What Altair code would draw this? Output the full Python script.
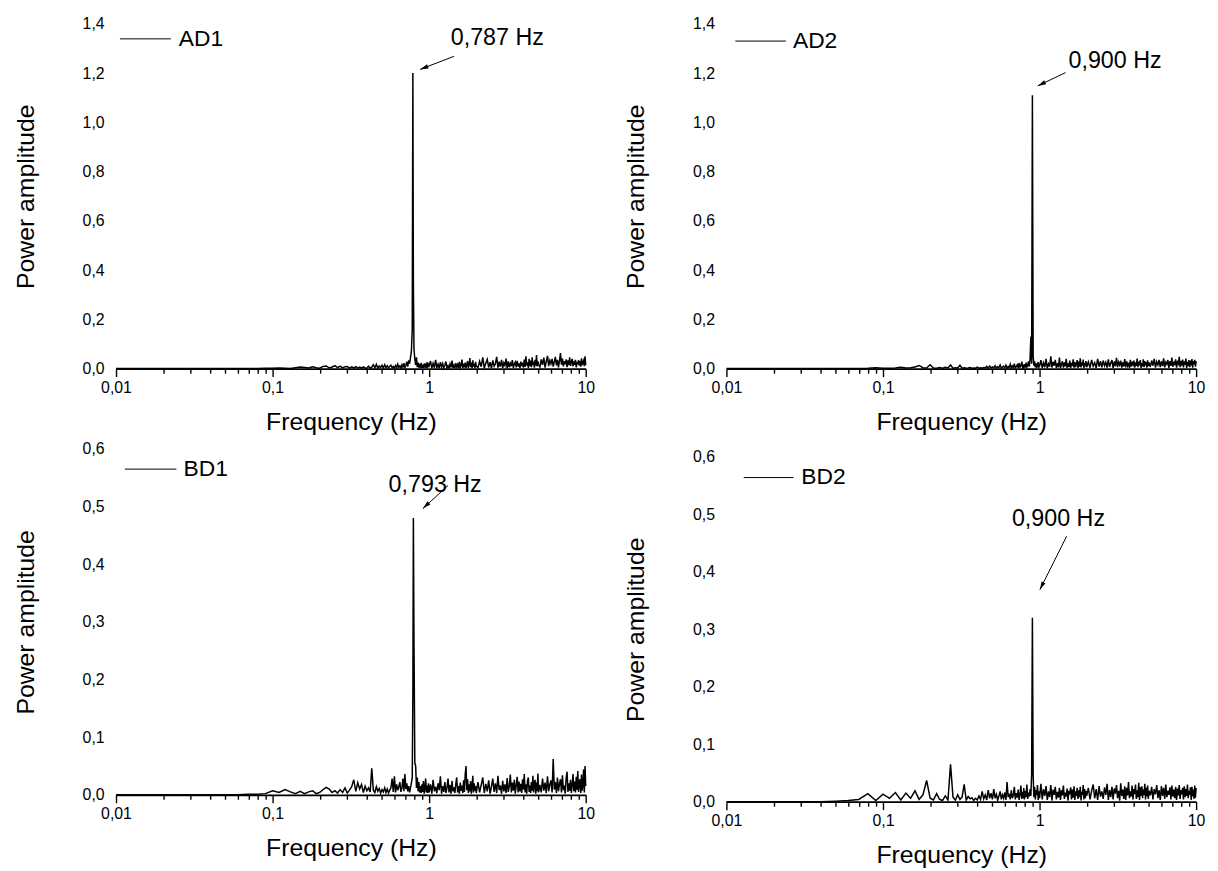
import math
import altair as alt
import pandas as pd

FONT = "Liberation Sans"

# ---------------- data ----------------
FREQ = [
    0.01, 0.015, 0.02, 0.025, 0.03, 0.04, 0.05, 0.06, 0.07, 0.08, 0.09,
    0.10, 0.11, 0.12, 0.13, 0.14, 0.15, 0.16, 0.17, 0.18, 0.19,
    0.20, 0.21, 0.22, 0.23, 0.24, 0.25, 0.26, 0.27, 0.28, 0.29,
    0.30, 0.31, 0.32, 0.33, 0.34, 0.35, 0.36, 0.37, 0.38, 0.39,
    0.40, 0.41, 0.42, 0.43, 0.44, 0.45, 0.46, 0.47, 0.48, 0.49, 0.50,
    0.51, 0.52, 0.53, 0.54, 0.55, 0.56, 0.57, 0.58, 0.59, 0.60,
    0.61, 0.62, 0.63, 0.64, 0.65, 0.66, 0.67, 0.68, 0.69, 0.70,
    0.71, 0.72, 0.73, 0.74, 0.75, 0.76, 0.77, 0.78, 0.787, 0.793,
    0.80, 0.81, 0.82, 0.83, 0.84, 0.85, 0.86, 0.87, 0.88, 0.89,
    0.90, 0.91, 0.92, 0.93, 0.94, 0.95, 0.96, 0.97, 0.98, 0.99,
    1.00, 1.02, 1.04, 1.06, 1.08, 1.10, 1.12, 1.14, 1.16, 1.18,
    1.20, 1.22, 1.24, 1.26, 1.28, 1.30, 1.32, 1.34, 1.36, 1.38,
    1.40, 1.42, 1.44, 1.46, 1.48, 1.50, 1.52, 1.54, 1.56, 1.58,
    1.60, 1.62, 1.64, 1.66, 1.68, 1.70, 1.72, 1.74, 1.76, 1.78,
    1.80, 1.82, 1.84, 1.86, 1.88, 1.90, 1.92, 1.94, 1.96, 1.98, 2.00,
    2.05, 2.10, 2.15, 2.20, 2.25, 2.30, 2.35, 2.40, 2.45, 2.50,
    2.55, 2.60, 2.65, 2.70, 2.75, 2.80, 2.85, 2.90, 2.95, 3.00,
    3.05, 3.10, 3.15, 3.20, 3.25, 3.30, 3.35, 3.40, 3.45, 3.50,
    3.55, 3.60, 3.65, 3.70, 3.75, 3.80, 3.85, 3.90, 3.95, 4.00,
    4.05, 4.10, 4.15, 4.20, 4.25, 4.30, 4.35, 4.40, 4.45, 4.50,
    4.55, 4.60, 4.65, 4.70, 4.75, 4.80, 4.85, 4.90, 4.95, 5.00,
    5.1, 5.2, 5.3, 5.4, 5.5, 5.6, 5.7, 5.8, 5.9, 6.0,
    6.1, 6.2, 6.3, 6.4, 6.5, 6.6, 6.7, 6.8, 6.9, 7.0,
    7.1, 7.2, 7.3, 7.4, 7.5, 7.6, 7.7, 7.8, 7.9, 8.0,
    8.1, 8.2, 8.3, 8.4, 8.5, 8.6, 8.7, 8.8, 8.9, 9.0,
    9.1, 9.2, 9.3, 9.4, 9.5, 9.6, 9.7, 9.8, 9.9, 10.0,
]

AD1 = [
    0.001, 0.001, 0.001, 0.001, 0.001, 0.001, 0.001, 0.001, 0.001, 0.001, 0.002,
    0.002, 0.003, 0.002, 0.001, 0.004, 0.007, 0.005, 0.003, 0.008, 0.004,
    0.002, 0.009, 0.011, 0.003, 0.007, 0.012, 0.004, 0.010, 0.003, 0.008,
    0.009, 0.002, 0.007, 0.003, 0.008, 0.002, 0.006, 0.002, 0.007, 0.003,
    0.002, 0.010, 0.002, 0.006, 0.016, 0.003, 0.018, 0.002, 0.011, 0.004, 0.014,
    0.003, 0.016, 0.004, 0.012, 0.002, 0.010, 0.014, 0.003, 0.009, 0.002,
    0.013, 0.004, 0.018, 0.005, 0.011, 0.002, 0.016, 0.006, 0.022, 0.004,
    0.013, 0.028, 0.008, 0.034, 0.020, 0.045, 0.070, 0.160, 1.200, 0.350,
    0.080, 0.040, 0.015, 0.046, 0.006, 0.025, 0.004, 0.019, 0.003, 0.024,
    0.002, 0.016, 0.003, 0.021, 0.005, 0.014, 0.002, 0.027, 0.004, 0.017,
    0.012, 0.031, 0.002, 0.022, 0.004, 0.036, 0.003, 0.018, 0.002, 0.026,
    0.006, 0.021, 0.002, 0.015, 0.029, 0.003, 0.012, 0.002, 0.019, 0.005,
    0.033, 0.003, 0.014, 0.002, 0.022, 0.007, 0.017, 0.002, 0.028, 0.004,
    0.013, 0.037, 0.003, 0.020, 0.005, 0.025, 0.002, 0.016, 0.031, 0.003,
    0.019, 0.043, 0.006, 0.025, 0.002, 0.034, 0.008, 0.020, 0.002, 0.028, 0.011,
    0.004, 0.030, 0.008, 0.046, 0.002, 0.022, 0.038, 0.005, 0.026, 0.002,
    0.034, 0.010, 0.020, 0.048, 0.004, 0.028, 0.008, 0.036, 0.003, 0.024,
    0.013, 0.041, 0.002, 0.030, 0.006, 0.022, 0.010, 0.035, 0.003, 0.019,
    0.027, 0.005, 0.032, 0.009, 0.021, 0.002, 0.029, 0.011, 0.024, 0.004,
    0.037, 0.007, 0.050, 0.013, 0.026, 0.003, 0.040, 0.010, 0.033, 0.006,
    0.046, 0.015, 0.028, 0.004, 0.036, 0.012, 0.055, 0.009, 0.030, 0.017,
    0.007, 0.038, 0.015, 0.045, 0.004, 0.030, 0.052, 0.010, 0.034, 0.020,
    0.040, 0.008, 0.028, 0.048, 0.013, 0.036, 0.005, 0.032, 0.063, 0.016,
    0.041, 0.009, 0.030, 0.018, 0.038, 0.006, 0.034, 0.014, 0.046, 0.011,
    0.027, 0.040, 0.009, 0.030, 0.016, 0.036, 0.005, 0.028, 0.018, 0.035,
    0.012, 0.031, 0.008, 0.042, 0.015, 0.026, 0.033, 0.010, 0.050, 0.014,
]

AD2 = [
    0.001, 0.001, 0.001, 0.001, 0.001, 0.001, 0.001, 0.001, 0.001, 0.002, 0.004,
    0.002, 0.002, 0.003, 0.006, 0.003, 0.004, 0.007, 0.013, 0.004, 0.003,
    0.016, 0.003, 0.002, 0.005, 0.002, 0.006, 0.003, 0.015, 0.002, 0.004,
    0.003, 0.014, 0.002, 0.004, 0.002, 0.003, 0.005, 0.002, 0.003, 0.002,
    0.006, 0.002, 0.004, 0.002, 0.005, 0.003, 0.009, 0.002, 0.011, 0.003, 0.007,
    0.003, 0.012, 0.002, 0.008, 0.004, 0.015, 0.002, 0.006, 0.010, 0.003,
    0.014, 0.002, 0.009, 0.004, 0.018, 0.003, 0.011, 0.005, 0.020, 0.002,
    0.008, 0.016, 0.003, 0.022, 0.006, 0.012, 0.028, 0.004, 0.010, 0.005,
    0.018, 0.004, 0.025, 0.006, 0.014, 0.030, 0.008, 0.040, 0.130, 0.020,
    1.110, 0.050, 0.012, 0.030, 0.005, 0.022, 0.003, 0.016, 0.027, 0.006,
    0.010, 0.035, 0.003, 0.024, 0.006, 0.040, 0.002, 0.020, 0.008, 0.050,
    0.004, 0.028, 0.012, 0.036, 0.003, 0.022, 0.006, 0.045, 0.002, 0.018,
    0.030, 0.004, 0.026, 0.009, 0.040, 0.003, 0.021, 0.007, 0.033, 0.002,
    0.024, 0.011, 0.038, 0.004, 0.027, 0.006, 0.020, 0.035, 0.003, 0.029,
    0.008, 0.042, 0.005, 0.025, 0.013, 0.037, 0.002, 0.023, 0.009, 0.031, 0.006,
    0.028, 0.004, 0.036, 0.010, 0.024, 0.003, 0.040, 0.008, 0.030, 0.005,
    0.033, 0.012, 0.026, 0.004, 0.038, 0.007, 0.022, 0.035, 0.003, 0.029,
    0.010, 0.044, 0.006, 0.027, 0.015, 0.032, 0.004, 0.025, 0.009, 0.039,
    0.005, 0.030, 0.012, 0.024, 0.003, 0.036, 0.008, 0.028, 0.017, 0.033,
    0.004, 0.026, 0.011, 0.041, 0.006, 0.029, 0.014, 0.035, 0.003, 0.023,
    0.009, 0.038, 0.006, 0.031, 0.013, 0.027, 0.004, 0.034, 0.010, 0.025,
    0.007, 0.033, 0.012, 0.040, 0.004, 0.028, 0.015, 0.036, 0.006, 0.030,
    0.010, 0.042, 0.005, 0.026, 0.018, 0.035, 0.003, 0.031, 0.011, 0.045,
    0.007, 0.029, 0.014, 0.038, 0.004, 0.027, 0.020, 0.048, 0.006, 0.032,
    0.012, 0.037, 0.005, 0.030, 0.016, 0.041, 0.003, 0.028, 0.010, 0.035,
    0.006, 0.033, 0.013, 0.039, 0.004, 0.031, 0.018, 0.036, 0.008, 0.030,
]

BD1 = [
    0.0, 0.0, 0.0, 0.0, 0.0, 0.0, 0.0, 0.0, 0.001, 0.001, 0.002,
    0.007, 0.004, 0.009, 0.005, 0.002, 0.006, 0.002, 0.005, 0.007, 0.002,
    0.004, 0.009, 0.013, 0.010, 0.004, 0.007, 0.003, 0.009, 0.004, 0.012,
    0.003, 0.008, 0.014, 0.026, 0.006, 0.021, 0.010, 0.018, 0.004, 0.015,
    0.007, 0.012, 0.005, 0.046, 0.008, 0.004, 0.014, 0.006, 0.011, 0.003, 0.009,
    0.005, 0.012, 0.004, 0.010, 0.003, 0.008, 0.012, 0.028, 0.005, 0.032,
    0.004, 0.018, 0.008, 0.014, 0.022, 0.005, 0.012, 0.028, 0.006, 0.036,
    0.010, 0.020, 0.006, 0.015, 0.004, 0.012, 0.020, 0.030, 0.175, 0.480,
    0.270, 0.055, 0.050, 0.012, 0.030, 0.006, 0.022, 0.004, 0.015, 0.003,
    0.018, 0.005, 0.024, 0.002, 0.012, 0.028, 0.004, 0.016, 0.003, 0.020,
    0.004, 0.018, 0.002, 0.026, 0.006, 0.014, 0.003, 0.020, 0.008, 0.032,
    0.002, 0.015, 0.005, 0.022, 0.003, 0.012, 0.028, 0.004, 0.017, 0.002,
    0.024, 0.006, 0.013, 0.003, 0.019, 0.030, 0.004, 0.015, 0.002, 0.021,
    0.007, 0.016, 0.003, 0.025, 0.005, 0.036, 0.050, 0.008, 0.027, 0.003,
    0.018, 0.006, 0.024, 0.002, 0.014, 0.033, 0.004, 0.020, 0.007, 0.015, 0.003,
    0.022, 0.004, 0.017, 0.030, 0.003, 0.019, 0.006, 0.025, 0.002, 0.014,
    0.028, 0.005, 0.020, 0.003, 0.033, 0.008, 0.016, 0.002, 0.024, 0.006,
    0.018, 0.003, 0.029, 0.005, 0.015, 0.035, 0.004, 0.021, 0.007, 0.026,
    0.002, 0.017, 0.031, 0.004, 0.023, 0.006, 0.019, 0.003, 0.027, 0.009,
    0.036, 0.004, 0.018, 0.002, 0.024, 0.030, 0.005, 0.016, 0.003, 0.022,
    0.007, 0.033, 0.004, 0.019, 0.026, 0.002, 0.021, 0.006, 0.037, 0.004,
    0.017, 0.004, 0.028, 0.007, 0.021, 0.003, 0.032, 0.006, 0.018, 0.025,
    0.004, 0.062, 0.009, 0.022, 0.003, 0.030, 0.006, 0.019, 0.027, 0.004,
    0.034, 0.008, 0.016, 0.002, 0.029, 0.040, 0.005, 0.020, 0.007, 0.026,
    0.003, 0.018, 0.036, 0.006, 0.023, 0.004, 0.031, 0.009, 0.041, 0.005,
    0.020, 0.027, 0.003, 0.035, 0.007, 0.019, 0.044, 0.004, 0.050, 0.015,
]

BD2 = [
    0.0, 0.0, 0.0, 0.0, 0.0, 0.0, 0.001, 0.002, 0.004, 0.014, 0.002,
    0.013, 0.006, 0.016, 0.003, 0.015, 0.006, 0.019, 0.004, 0.012, 0.037,
    0.006, 0.003, 0.014, 0.004, 0.002, 0.010, 0.003, 0.065, 0.008, 0.003,
    0.012, 0.004, 0.008, 0.030, 0.003, 0.009, 0.005, 0.007, 0.002, 0.006,
    0.003, 0.010, 0.004, 0.018, 0.005, 0.012, 0.003, 0.020, 0.006, 0.015, 0.004,
    0.022, 0.006, 0.013, 0.003, 0.010, 0.018, 0.004, 0.012, 0.006, 0.016,
    0.003, 0.034, 0.008, 0.014, 0.004, 0.020, 0.006, 0.011, 0.026, 0.004,
    0.015, 0.007, 0.021, 0.003, 0.012, 0.028, 0.005, 0.017, 0.006, 0.024,
    0.004, 0.019, 0.008, 0.030, 0.005, 0.016, 0.009, 0.022, 0.010, 0.048,
    0.320, 0.046, 0.008, 0.026, 0.004, 0.020, 0.012, 0.029, 0.003, 0.018,
    0.006, 0.031, 0.004, 0.022, 0.010, 0.027, 0.003, 0.018, 0.008, 0.029,
    0.002, 0.021, 0.012, 0.026, 0.004, 0.017, 0.007, 0.024, 0.003, 0.020,
    0.011, 0.028, 0.005, 0.016, 0.009, 0.023, 0.002, 0.019, 0.013, 0.025,
    0.004, 0.021, 0.007, 0.027, 0.003, 0.018, 0.010, 0.024, 0.005, 0.020,
    0.008, 0.026, 0.002, 0.017, 0.012, 0.029, 0.004, 0.022, 0.006, 0.019, 0.010,
    0.024, 0.004, 0.019, 0.030, 0.006, 0.022, 0.003, 0.027, 0.009, 0.018,
    0.005, 0.025, 0.012, 0.031, 0.003, 0.020, 0.008, 0.026, 0.004, 0.023,
    0.014, 0.029, 0.006, 0.019, 0.002, 0.032, 0.010, 0.021, 0.005, 0.027,
    0.003, 0.024, 0.011, 0.034, 0.006, 0.018, 0.009, 0.028, 0.004, 0.022,
    0.013, 0.030, 0.005, 0.020, 0.008, 0.033, 0.003, 0.025, 0.010, 0.027,
    0.006, 0.021, 0.012, 0.031, 0.004, 0.024, 0.009, 0.028, 0.005, 0.019,
    0.011, 0.026, 0.004, 0.022, 0.013, 0.029, 0.006, 0.020, 0.003, 0.027,
    0.010, 0.024, 0.005, 0.030, 0.008, 0.019, 0.012, 0.025, 0.004, 0.028,
    0.009, 0.021, 0.006, 0.026, 0.003, 0.023, 0.011, 0.029, 0.005, 0.020,
    0.013, 0.024, 0.004, 0.027, 0.008, 0.022, 0.010, 0.030, 0.006, 0.019,
    0.012, 0.025, 0.003, 0.026, 0.009, 0.021, 0.005, 0.028, 0.007, 0.024,
]

SERIES = {"AD1": AD1, "AD2": AD2, "BD1": BD1, "BD2": BD2}
for k, v in SERIES.items():
    assert len(v) == len(FREQ), (k, len(v), len(FREQ))

NAMES = ["AD1", "AD2", "BD1", "BD2"]
YMAX = [1.4, 1.4, 0.6, 0.6]
Y_TICKS_A = [0.0, 0.2, 0.4, 0.6, 0.8, 1.0, 1.2, 1.4]
Y_TICKS_B = [0.0, 0.1, 0.2, 0.3, 0.4, 0.5, 0.6]
Y_TICKS = [Y_TICKS_A, Y_TICKS_A, Y_TICKS_B, Y_TICKS_B]

X_MAJOR = [0.01, 0.1, 1, 10]
X_MAJOR_LABELS = ["0,01", "0,1", "1", "10"]
X_MINOR = [0.02, 0.03, 0.04, 0.05, 0.06, 0.07, 0.08, 0.09,
           0.2, 0.3, 0.4, 0.5, 0.6, 0.7, 0.8, 0.9,
           2, 3, 4, 5, 6, 7, 8, 9]

# legend line (x1, x2, y) and label position
LEG_X1 = [0.0106, 0.0114, 0.0114, 0.0129]
LEG_X2 = [0.0224, 0.0240, 0.0243, 0.0268]
LEG_Y = [1.339, 1.330, 0.565, 0.564]
LEG_TX = [0.0252, 0.0266, 0.0270, 0.0301]

# peak annotations
ANN_TEXT = ["0,787 Hz", "0,900 Hz", "0,793 Hz", "0,900 Hz"]
ANN_TX = [1.374, 1.53, 0.551, 0.666]
ANN_TY = [1.342, 1.25, 0.5365, 0.491]
ARR_X1 = [1.44, 1.466, 1.32, 1.488]
ARR_Y1 = [1.268, 1.202, 0.5365, 0.4617]
ARR_X2 = [0.875, 0.973, 0.911, 1.004]
ARR_Y2 = [1.215, 1.148, 0.4965, 0.3687]

# ---------------- styling ----------------
W = 474
HEIGHTS = [348, 348, 349, 348]
LEG_FS = 23
ANN_FS = 23.5
TITLE_FS = 25
TICK_FS = 16
ARROW_PATH = "M0,0 L0.42,1.6 L-0.42,1.6 Z"

label_expr = ""
for v, lab in zip(X_MAJOR, X_MAJOR_LABELS):
    label_expr += f"datum.value == {v} ? '{lab}' : "
label_expr += "''"
major_test = "indexof([" + ",".join(str(v) for v in X_MAJOR) + "], datum.value) >= 0"

XSCALE = alt.Scale(type="log", domain=[0.01, 10])

X_AXIS = alt.Axis(
    values=X_MAJOR + X_MINOR,
    labelExpr=label_expr,
    tickSize={"condition": {"test": major_test, "value": 8}, "value": 4.5},
    labelOverlap=False, labelFlush=False, grid=False,
    domainColor="black", domainWidth=1.8, tickColor="black", tickWidth=1.4,
    labelFont=FONT, labelFontSize=TICK_FS, labelColor="black", labelPadding=3,
    titleFont=FONT, titleFontSize=TITLE_FS, titleFontWeight="normal",
    titleColor="black", titlePadding=14,
)


def y_axis(ticks):
    return alt.Axis(
        values=ticks,
        labelExpr="replace(format(datum.value, '.1f'), '.', ',')",
        domain=False, ticks=False, grid=False, labelFlush=False,
        labelFont=FONT, labelFontSize=TICK_FS, labelColor="black", labelPadding=12,
        titleFont=FONT, titleFontSize=TITLE_FS, titleFontWeight="normal",
        titleColor="black", titlePadding=44,
    )


def panel(i):
    name = NAMES[i]
    ymax = YMAX[i]
    h = HEIGHTS[i]
    ys = alt.Scale(domain=[0, ymax], nice=False, zero=False)
    ya = y_axis(Y_TICKS[i])

    def X(f):
        return alt.X(f"{f}:Q", scale=XSCALE, axis=X_AXIS, title="Frequency (Hz)")

    def Y(f):
        return alt.Y(f"{f}:Q", scale=ys, axis=ya, title="Power amplitude")

    df = pd.DataFrame({"f": FREQ, "p": SERIES[name]})
    line = alt.Chart(df).mark_line(color="black", strokeWidth=1.5).encode(
        x=X("f"), y=Y("p"))

    leg_df = pd.DataFrame({"x": [LEG_X1[i]], "x2": [LEG_X2[i]], "y": [LEG_Y[i]],
                           "tx": [LEG_TX[i]], "t": [name]})
    leg_line = alt.Chart(leg_df).mark_rule(color="black", strokeWidth=1).encode(
        x=X("x"), x2="x2:Q", y=Y("y"))
    leg_text = alt.Chart(leg_df).mark_text(
        align="left", baseline="middle", font=FONT, fontSize=LEG_FS, color="black"
    ).encode(x=X("tx"), y=Y("y"), text="t:N")

    # arrow geometry in pixels to orient the arrowhead
    dx = (math.log10(ARR_X2[i]) - math.log10(ARR_X1[i])) / 3.0 * W
    dy = -(ARR_Y2[i] - ARR_Y1[i]) / ymax * h
    ang = math.degrees(math.atan2(dx, -dy)) % 360

    ann_df = pd.DataFrame({"tx": [ANN_TX[i]], "ty": [ANN_TY[i]], "t": [ANN_TEXT[i]],
                           "x1": [ARR_X1[i]], "y1": [ARR_Y1[i]],
                           "x2": [ARR_X2[i]], "y2": [ARR_Y2[i]]})
    ann_text = alt.Chart(ann_df).mark_text(
        align="left", baseline="middle", font=FONT, fontSize=ANN_FS, color="black"
    ).encode(x=X("tx"), y=Y("ty"), text="t:N")
    arrow = alt.Chart(ann_df).mark_rule(color="black", strokeWidth=1).encode(
        x=X("x1"), y=Y("y1"), x2="x2:Q", y2="y2:Q")
    head = alt.Chart(ann_df).mark_point(
        shape=ARROW_PATH, filled=True, size=110, angle=ang, color="black",
        opacity=1, strokeWidth=0
    ).encode(x=X("x2"), y=Y("y2"))

    return alt.layer(line, leg_line, leg_text, arrow, head, ann_text).properties(
        width=W, height=h)


left = alt.vconcat(panel(0), panel(2), spacing=7)
right = alt.vconcat(panel(1), panel(3), spacing=15)
chart = alt.hconcat(left, right, spacing=29).properties(
    padding={"left": 5, "top": 4, "right": 5, "bottom": 5},
    background="white",
).configure_view(stroke=None)

chart.save("out.html", embed_options={"renderer": "svg", "actions": False})
